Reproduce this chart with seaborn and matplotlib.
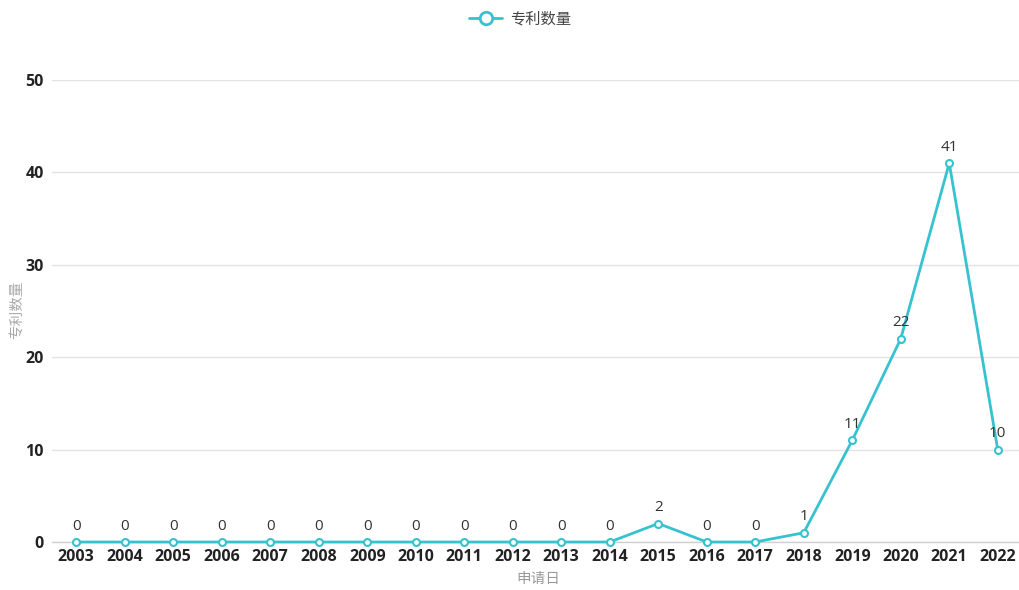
import matplotlib
matplotlib.use("Agg")
import matplotlib.pyplot as plt
import seaborn as sns
import pandas as pd

years = ["2003", "2004", "2005", "2006", "2007", "2008", "2009", "2010", "2011", "2012",
         "2013", "2014", "2015", "2016", "2017", "2018", "2019", "2020", "2021", "2022"]
counts = [0, 0, 0, 0, 0, 0, 0, 0, 0, 0, 0, 0, 2, 0, 0, 1, 11, 22, 41, 10]
y_ticks = [0, 10, 20, 30, 40, 50]
series_name = "专利数量"
x_title = "申请日"
y_title = "专利数量"

sns.set_theme(style="white")
plt.rcParams["font.family"] = ["Open Sans", "Noto Sans CJK SC", "DejaVu Sans"]

LINE = "#36c2cf"
df = pd.DataFrame({"year": years, "count": counts})
df["pos"] = range(len(years))

fig = plt.figure(figsize=(10.19, 5.90), dpi=100)
ax = fig.add_axes([52 / 1019, 1 - 542 / 590, (1022 - 52) / 1019, (542 - 80) / 590])

sns.lineplot(data=df, x="pos", y="count", ax=ax, color=LINE, linewidth=2,
             marker="o", markersize=5, markerfacecolor="white",
             markeredgecolor=LINE, markeredgewidth=1.5, label=series_name,
             clip_on=False, zorder=3)

for x, y in zip(df["pos"], df["count"]):
    ax.annotate(str(y), (x, y), xytext=(0, 6), textcoords="offset points",
                ha="center", va="bottom", fontsize=11, color="#333333")

ax.set_xlim(-0.5, len(years) - 0.5)
ax.set_ylim(0, 50)
ax.set_yticks(y_ticks)
ax.set_xticks(range(len(years)))
ax.set_xticklabels(years)
ax.tick_params(axis="both", length=0, labelsize=11.5, colors="#222222")
ax.tick_params(axis="x", pad=5)
ax.tick_params(axis="y", pad=6)
for lab in ax.get_xticklabels() + ax.get_yticklabels():
    lab.set_fontweight("bold")

ax.yaxis.grid(True, color="#e3e3e3", linewidth=1)
ax.xaxis.grid(False)
for side in ["top", "right", "left"]:
    ax.spines[side].set_visible(False)
ax.spines["bottom"].set_color("#d0d0d0")
ax.spines["bottom"].set_linewidth(1)

ax.set_xlabel(x_title, color="#999999", fontsize=10.5)
ax.set_ylabel(y_title, color="#aaaaaa", fontsize=10.5)
xl = ax.xaxis.label
xl.set_verticalalignment("center")
ax.xaxis.set_label_coords((538 - 52) / (1022 - 52), -(580 - 542) / (542 - 80))
yl = ax.yaxis.label
yl.set_verticalalignment("center")
ax.yaxis.set_label_coords(-(52 - 17) / (1022 - 52), (542 - 310) / (542 - 80))

leg = ax.legend(loc="center", bbox_to_anchor=(520 / 1019, 1 - 20 / 590),
                bbox_transform=fig.transFigure, frameon=False, fontsize=11,
                handlelength=2.2, handletextpad=0.5)
for h in leg.legend_handles:
    h.set_markersize(9)
    h.set_markeredgewidth(2)
for t in leg.get_texts():
    t.set_color("#444444")

fig.savefig("out.png", dpi=100)
